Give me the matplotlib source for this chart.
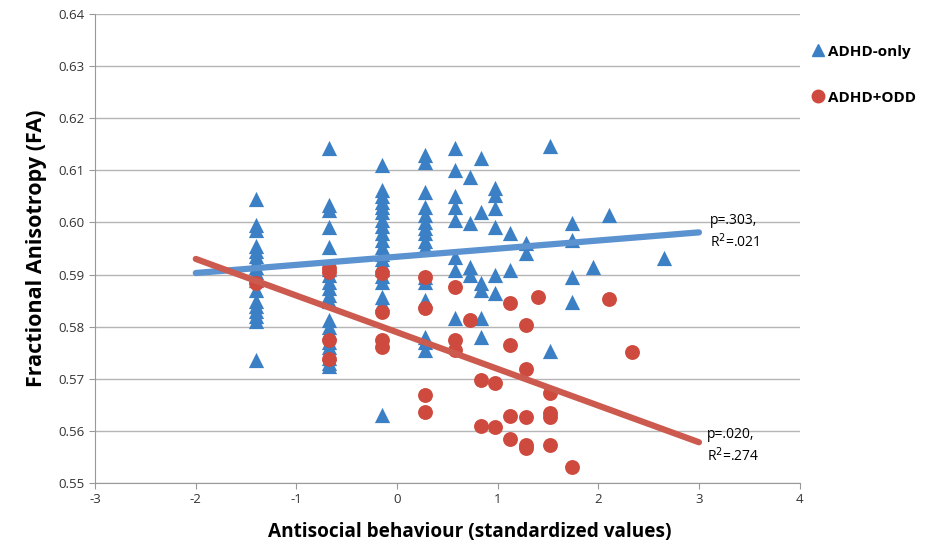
import matplotlib.pyplot as plt
import numpy as np

# ADHD-only (blue triangles)
adhd_x = [-1.4] * 17 + [-0.68] * 20 + [-0.15] * 20 + [0.28] * 16 + [0.58] * 8 \
    + [0.72] * 4 + [0.83] * 6 + [0.97] * 6 + [1.12] * 2 + [1.28] * 2 + [1.52] * 2 \
    + [1.74] * 4 + [1.95, 2.11, 2.65]
adhd_y = [0.6045, 0.5995, 0.5985, 0.5955, 0.5945, 0.5935, 0.5925, 0.5915, 0.5905,
          0.589, 0.587, 0.585, 0.584, 0.583, 0.582, 0.581, 0.5735,
          0.6143, 0.6033, 0.6024, 0.5991, 0.5953, 0.591, 0.590, 0.5885, 0.5875,
          0.586, 0.585, 0.5813, 0.580, 0.579, 0.577, 0.576, 0.575, 0.574, 0.573, 0.5725,
          0.611, 0.6062, 0.605, 0.604, 0.603, 0.602, 0.6005, 0.5993, 0.598, 0.5966,
          0.5953, 0.594, 0.593, 0.592, 0.591, 0.5897, 0.5885, 0.5857, 0.5845, 0.563,
          0.613, 0.6116, 0.6058, 0.603, 0.6015, 0.600, 0.599, 0.598, 0.5965, 0.5953,
          0.5895, 0.5885, 0.5851, 0.578, 0.577, 0.5755,
          0.6143, 0.610, 0.605, 0.603, 0.6005, 0.5934, 0.5909, 0.5817,
          0.6087, 0.5999, 0.5914, 0.5899,
          0.6124, 0.602, 0.5884, 0.587, 0.5817, 0.578,
          0.6066, 0.6053, 0.6028, 0.5991, 0.5899, 0.5865,
          0.598, 0.5909,
          0.5961, 0.5941,
          0.6147, 0.5753,
          0.5999, 0.5966, 0.5895, 0.5847,
          0.5914, 0.6014, 0.5932]

# ADHD+ODD (red circles)
odd_x = [-1.4, -0.68, -0.68, -0.68, -0.68, -0.15, -0.15, -0.15, -0.15,
         0.28, 0.28, 0.28, 0.28, 0.58, 0.58, 0.58, 0.72, 0.83, 0.83, 0.97, 0.97,
         1.12, 1.12, 1.12, 1.12, 1.28, 1.28, 1.28, 1.28, 1.28, 1.40,
         1.52, 1.52, 1.52, 1.52, 1.74, 2.11, 2.33]
odd_y = [0.5884, 0.5912, 0.5905, 0.5774, 0.5738, 0.5903, 0.5828, 0.5774, 0.5761,
         0.5895, 0.5836, 0.5669, 0.5637, 0.5876, 0.5774, 0.5755, 0.5813, 0.5698, 0.5609,
         0.5692, 0.5607, 0.5845, 0.5765, 0.5628, 0.5584, 0.5803, 0.5719, 0.5627,
         0.5572, 0.5567, 0.5857, 0.5673, 0.5634, 0.5626, 0.5573, 0.5531, 0.5853, 0.5751]

# trend lines (endpoints)
trend_x = [-2, 3]
adhd_trend = [0.5903, 0.5981]
odd_trend = [0.5930, 0.5578]

blue = '#3b7fc4'
red = '#cf4a3e'

plt.rcParams['font.family'] = ['Open Sans', 'DejaVu Sans']
plt.rcParams['axes.unicode_minus'] = False

fig = plt.figure(figsize=(9.33, 5.45), dpi=100)
ax = fig.add_axes([0.102, 0.114, 0.755, 0.860])

ax.scatter(adhd_x, adhd_y, marker='^', s=120, color=blue, zorder=3, linewidths=0)
ax.scatter(odd_x, odd_y, marker='o', s=115, color=red, zorder=4, linewidths=0)
ax.plot(trend_x, adhd_trend, color='#5b92d0', lw=4.5, zorder=5, solid_capstyle='round')
ax.plot(trend_x, odd_trend, color='#cd5a4e', lw=4.5, zorder=5, solid_capstyle='round')

ax.set_xlim(-3, 4)
ax.set_ylim(0.55, 0.64)
yticks = np.arange(0.55, 0.6401, 0.01)
ax.set_xticks(np.arange(-3, 5, 1))
ax.set_yticks(yticks)
ax.set_yticklabels([f'{v:.2f}' for v in yticks])
ax.tick_params(labelsize=9.5, colors='#333333', length=4, color='#999999')
ax.yaxis.grid(True, color='#b5b5b5', lw=1)
ax.set_axisbelow(True)
for s in ['top', 'right']:
    ax.spines[s].set_visible(False)
for s in ['left', 'bottom']:
    ax.spines[s].set_color('#999999')

ax.set_xlabel('Antisocial behaviour (standardized values)', fontsize=13.7, fontweight='bold')
ax.xaxis.set_label_coords(0.532, -0.083)
ax.set_ylabel('Fractional Anisotropy (FA)', fontsize=15.5, fontweight='bold', labelpad=8)

ax.text(3.11, 0.5982, 'p=.303,\nR$^2$=.021', fontsize=10, va='center', ha='left', linespacing=1.3)
ax.text(3.08, 0.5571, 'p=.020,\nR$^2$=.274', fontsize=10, va='center', ha='left', linespacing=1.3)

# legend drawn by hand to the right of the plot
fig.lines.append(plt.Line2D([818 / 933], [1 - 50 / 545], marker='^', ms=9, color=blue,
                            ls='none', transform=fig.transFigure))
fig.lines.append(plt.Line2D([818 / 933], [1 - 96 / 545], marker='o', ms=9, color=red,
                            ls='none', transform=fig.transFigure))
fig.text(828 / 933, 1 - 52 / 545, 'ADHD-only', fontsize=11, fontweight='bold', va='center')
fig.text(828 / 933, 1 - 98 / 545, 'ADHD+ODD', fontsize=11, fontweight='bold', va='center')

fig.savefig('out.png', dpi=100)
